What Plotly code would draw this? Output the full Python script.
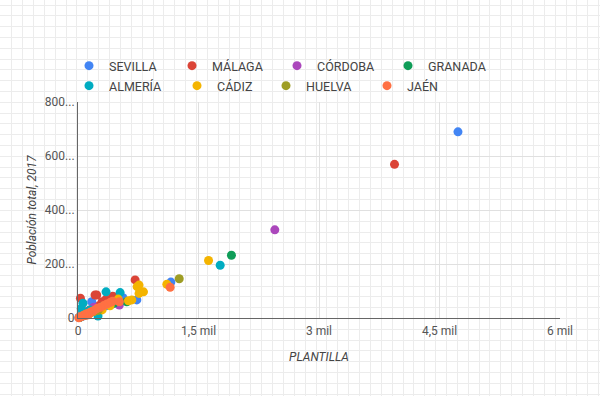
import plotly.graph_objects as go

provinces = ["SEVILLA", "MÁLAGA", "CÓRDOBA", "GRANADA", "ALMERÍA", "CÁDIZ", "HUELVA", "JAÉN"]
colors = ["#4285F4", "#DB4437", "#AB47BC", "#0F9D58", "#00ACC1", "#F4B400", "#9E9D24", "#FF7043"]

# PLANTILLA (x) and Población total 2017 (y) per province
sevilla_x = [4730, 1156, 732, 560, 520, 460, 420, 350, 300, 250, 200, 171, 150, 120, 90, 60, 40, 25]
sevilla_y = [689434, 133000, 67000, 75000, 62000, 55000, 52000, 45000, 38000, 30000, 25000, 60000, 20000, 15000, 10000, 7000, 5000, 3000]
malaga_x = [3940, 711, 449, 433, 400, 350, 300, 260, 233, 212, 200, 150, 120, 80, 50, 30, 30]
malaga_y = [569130, 141000, 74000, 81000, 67000, 70000, 60000, 45000, 85000, 85000, 38000, 30000, 25000, 15000, 9000, 5000, 73000]
cordoba_x = [2450, 515, 300, 250, 200, 150, 100, 70, 40, 20]
cordoba_y = [326609, 48000, 40000, 35000, 40000, 22000, 15000, 10000, 6000, 3000]
granada_x = [1910, 607, 450, 300, 200, 150, 100, 60, 30, 20]
granada_y = [232208, 60000, 55000, 42000, 28000, 20000, 14000, 8000, 4000, 2000]
almeria_x = [1770, 524, 349, 249, 150, 100, 62, 60, 40, 30, 15]
almeria_y = [195389, 94000, 97000, 7400, 30000, 20000, 55000, 10000, 35000, 5000, 2000]
cadiz_x = [1625, 1106, 815, 760, 760, 736, 670, 628, 500, 400, 300, 200, 150, 100]
cadiz_y = [212879, 125000, 97000, 122000, 91000, 116000, 67000, 64000, 70000, 45000, 30000, 25000, 18000, 12000]
huelva_x = [1260, 250, 200, 150, 100, 60, 30]
huelva_y = [145468, 28000, 25000, 20000, 15000, 8000, 4000]
jaen_x = [1147, 515, 430, 400, 360, 320, 280, 240, 210, 180, 150, 130, 120, 100, 100, 80, 60, 45, 30, 20, 10]
jaen_y = [114000, 60000, 62000, 57000, 52000, 46000, 40000, 36000, 30000, 25000, 21000, 12000, 17000, 14000, 10000, 11000, 8000, 6000, 4000, 2500, 1000]

xs = [sevilla_x, malaga_x, cordoba_x, granada_x, almeria_x, cadiz_x, huelva_x, jaen_x]
ys = [sevilla_y, malaga_y, cordoba_y, granada_y, almeria_y, cadiz_y, huelva_y, jaen_y]

x_tickvals = [0, 1500, 3000, 4500, 6000]
x_ticktext = ["0", "1,5 mil", "3 mil", "4,5 mil", "6 mil"]
y_tickvals = [0, 200000, 400000, 600000, 800000]
y_ticktext = ["0", "200...", "400...", "600...", "800..."]

W, H = 600, 396
# legend entry marker positions (px)
leg_pos = [(89, 66), (192, 66), (297, 66), (408, 66), (89, 86), (197, 86), (286, 86), (387, 86)]

fig = go.Figure()

# empty trace for the graph-paper background axes
fig.add_trace(go.Scatter(x=[], y=[], xaxis="x", yaxis="y", showlegend=False, hoverinfo="skip"))

legends = {}
for i, (name, c) in enumerate(zip(provinces, colors)):
    lname = "legend" if i == 0 else f"legend{i + 1}"
    fig.add_trace(go.Scatter(
        x=xs[i], y=ys[i], mode="markers", name=name, showlegend=True,
        marker=dict(color=c, size=9, line=dict(width=0)),
        xaxis="x2", yaxis="y2", cliponaxis=False,
        legend=lname,
    ))
    lx, ly = leg_pos[i]
    legends[lname] = dict(orientation="h", x=(lx - 20) / W, xanchor="left",
                          y=(H - ly) / H, yanchor="middle", bgcolor="rgba(0,0,0,0)",
                          font=dict(size=12.5, color="#444444"))

px_l, px_r, px_t, px_b = 78, 560, 102, 318

fig.update_layout(
    width=W, height=H, showlegend=True,
    margin=dict(l=0, r=0, t=0, b=0, autoexpand=False),
    paper_bgcolor="white", plot_bgcolor="rgba(0,0,0,0)",
    font=dict(family="Roboto", size=12, color="#555555"),
    xaxis=dict(domain=[0, 1], range=[0, W], tick0=11.7, dtick=10.87, showgrid=True,
               gridcolor="#ececec", gridwidth=1, showticklabels=False, zeroline=False,
               showline=False, ticks="", fixedrange=True),
    yaxis=dict(domain=[0, 1], range=[H, 0], tick0=5, dtick=10.81, showgrid=True,
               gridcolor="#ececec", gridwidth=1, showticklabels=False, zeroline=False,
               showline=False, ticks="", fixedrange=True),
    xaxis2=dict(domain=[px_l / W, px_r / W], anchor="y2", range=[0, 6000],
                tickvals=x_tickvals, ticktext=x_ticktext, showgrid=True, gridcolor="#e0e0e0",
                zeroline=False, showline=True, linecolor="#666666", linewidth=1, ticks="",
                tickfont=dict(size=12, color="#555555"), ticklabelstandoff=2,
                title=dict(text="PLANTILLA", font=dict(size=12, color="#444444", style="italic"), standoff=15)),
    yaxis2=dict(domain=[(H - px_b) / H, (H - px_t) / H], anchor="x2", range=[0, 800000],
                tickvals=y_tickvals, ticktext=y_ticktext, showgrid=True, gridcolor="#e0e0e0",
                zeroline=False, showline=True, linecolor="#666666", linewidth=1, ticks="",
                tickfont=dict(size=12, color="#555555"),
                title=dict(text="Población total, 2017", font=dict(size=12, color="#444444", style="italic"), standoff=5)),
    **legends,
)

fig.write_html("out.html", config={"displayModeBar": False},
               post_script="document.body.style.margin='0px';")
